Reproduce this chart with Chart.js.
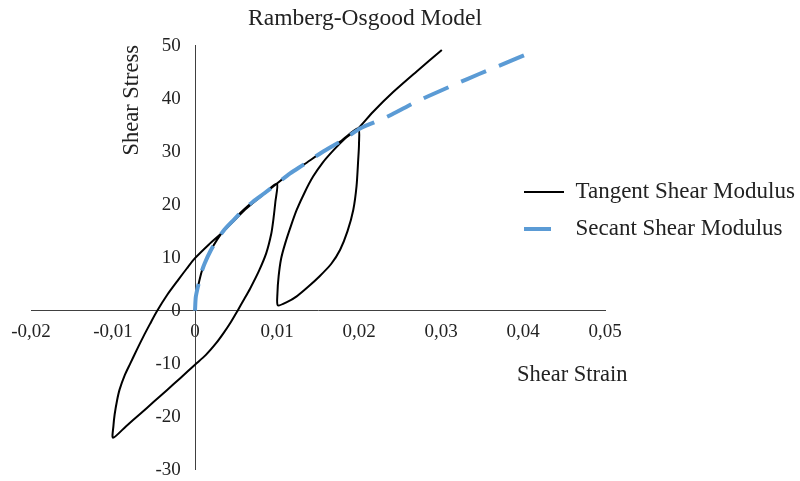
<!DOCTYPE html>
<html>
<head>
<meta charset="utf-8">
<title>Ramberg-Osgood Model</title>
<script src="https://cdn.jsdelivr.net/npm/chart.js@4.4.1/dist/chart.umd.min.js"></script>
<style>
    html, body { margin: 0; padding: 0; background: #fff; }
    .chart-box { position: relative; width: 800px; height: 481px; }
</style>
</head>
<body>
<div class="chart-box"><canvas id="roChart"></canvas></div>
<script>
const chartTitle = 'Ramberg-Osgood Model';
const strainTitle = 'Shear Strain';
const stressTitle = 'Shear Stress';
const seriesNames = ['Tangent Shear Modulus', 'Secant Shear Modulus'];

const strainTicks = [-0.02, -0.01, 0, 0.01, 0.02, 0.03, 0.04, 0.05];
const strainTickLabels = ['-0,02', '-0,01', '0', '0,01', '0,02', '0,03', '0,04', '0,05'];
const stressTicks = [-30, -20, -10, 0, 10, 20, 30, 40, 50];

// tangent path: first loading, unload to the left tip, reload, small loop, on to the top
const tangentStrain = [
    0, 0.0001, 0.0004, 0.0008, 0.0012, 0.0019, 0.0027, 0.0036, 0.0047, 0.0059, 0.0071, 0.0085, 0.0100,
    0.0098, 0.00955, 0.0093, 0.0087, 0.0078, 0.0067, 0.0059, 0.0052, 0.0044, 0.0035, 0.0026, 0.0013, 0.0,
    -0.0017, -0.0035, -0.0051, -0.0067, -0.0084, -0.0100,
    -0.00995, -0.0098, -0.0095, -0.0092, -0.0086, -0.0079, -0.0071, -0.0063, -0.0055, -0.0047,
    -0.0034, -0.0020, -0.0010, 0.0, 0.0017, 0.0035, 0.0049, 0.0063, 0.0080, 0.0100,
    0.0116, 0.0133, 0.0155, 0.0178, 0.0199,
    0.0200, 0.0199, 0.0197, 0.0193, 0.0186, 0.0177, 0.0166, 0.0152, 0.0138, 0.0124, 0.0112, 0.0101,
    0.01005, 0.0102, 0.0105, 0.0110, 0.0117, 0.0124, 0.0134, 0.0144, 0.0156, 0.0169, 0.0183, 0.0199,
    0.0217, 0.0242, 0.0270, 0.0301
];
const tangentStress = [
    0, 2.6, 4.8, 7.3, 9.0, 11.3, 13.4, 15.3, 17.1, 19.0, 20.6, 22.2, 24.0,
    20.5, 17.1, 14.5, 10.9, 7.5, 4.1, 1.9, 0.0, -2.1, -4.2, -6.1, -8.4, -10.2,
    -12.6, -15.1, -17.3, -19.5, -21.8, -24.0,
    -21.8, -19.6, -16.9, -14.9, -12.3, -10.0, -7.4, -4.9, -2.55, -0.25,
    2.95, 5.9, 7.95, 9.9, 12.5, 15.0, 17.2, 19.3, 21.5, 24.0,
    25.9, 27.6, 29.9, 32.0, 34.4,
    31.5, 28.4, 23.5, 19.0, 15.0, 11.5, 8.8, 6.5, 4.5, 2.7, 1.6, 1.0,
    3.2, 6.5, 9.8, 12.7, 16.0, 19.0, 22.4, 25.3, 28.0, 30.3, 32.5, 34.4,
    37.5, 41.3, 45.1, 49.2
];

// secant backbone
const secantStrain = [
    0, 0.0001, 0.0004, 0.0008, 0.0012, 0.0019, 0.0027, 0.0036, 0.0047, 0.0059, 0.0071, 0.0085, 0.0100,
    0.0116, 0.0133, 0.0155, 0.0178, 0.0203, 0.0223, 0.0240, 0.0267, 0.0285, 0.0314, 0.0332, 0.0361,
    0.0380, 0.0406
];
const secantStress = [
    0, 2.6, 4.8, 7.3, 9.0, 11.3, 13.4, 15.3, 17.1, 19.0, 20.6, 22.2, 24.0,
    25.9, 27.6, 29.9, 32.0, 34.5, 35.8, 37.0, 39.2, 40.5, 42.5, 43.7, 45.6,
    46.8, 48.5
];

const serif = '"Liberation Serif", "Times New Roman", serif';
const ink = '#222';
const axisInk = '#404040';

const pairs = (xs, ys) => xs.map((x, i) => ({ x, y: ys[i] }));

// title and legend sit where the plot leaves room for them
const placeBlocks = {
    id: 'placeBlocks',
    afterLayout(chart) {
        const title = chart.titleBlock;
        title.left = 0;
        title.right = 730;
        title.width = 730;

        const legend = chart.legend;
        legend.left = 510;
        legend.top = 166.5;
        legend.right = legend.left + legend.width;
        legend.bottom = legend.top + legend.height;
    }
};

// axis captions next to the crossing axes
const axisCaptions = {
    id: 'axisCaptions',
    afterDraw(chart) {
        const { ctx, scales: { x, y } } = chart;
        ctx.save();
        ctx.font = '22.5px ' + serif;
        ctx.fillStyle = ink;
        ctx.textAlign = 'center';
        ctx.textBaseline = 'middle';
        ctx.fillText(strainTitle, x.getPixelForValue(0.0460), y.getPixelForValue(-12.2));
        ctx.translate(x.getPixelForValue(-0.0077), y.getPixelForValue(39.7));
        ctx.rotate(-Math.PI / 2);
        ctx.fillText(stressTitle, 0, 0);
        ctx.restore();
    }
};

new Chart(document.getElementById('roChart'), {
    type: 'scatter',
    data: {
        datasets: [
            {
                label: seriesNames[0],
                data: pairs(tangentStrain, tangentStress),
                showLine: true,
                borderColor: '#000',
                borderWidth: 2,
                borderJoinStyle: 'round',
                tension: 0.25,
                pointRadius: 0,
                pointHoverRadius: 0,
                order: 1
            },
            {
                label: seriesNames[1],
                data: pairs(secantStrain, secantStress),
                showLine: true,
                borderColor: '#5b9bd5',
                borderWidth: 4,
                borderDash: [27, 14],
                tension: 0.25,
                pointRadius: 0,
                pointHoverRadius: 0,
                order: 0
            }
        ]
    },
    options: {
        responsive: true,
        maintainAspectRatio: false,
        animation: false,
        events: [],
        layout: { padding: { left: 31, right: 195, top: 0, bottom: 11 } },
        plugins: {
            title: {
                display: true,
                text: chartTitle,
                color: ink,
                font: { family: serif, size: 23.5, weight: 'normal' },
                padding: { top: 5, bottom: 12.5 }
            },
            legend: {
                position: 'chartArea',
                align: 'start',
                labels: {
                    color: ink,
                    font: { family: serif, size: 23 },
                    padding: 14,
                    usePointStyle: true,
                    pointStyleWidth: 40,
                    generateLabels: chart => chart.data.datasets.map((ds, i) => ({
                        text: ds.label,
                        datasetIndex: i,
                        strokeStyle: ds.borderColor,
                        fillStyle: ds.borderColor,
                        lineWidth: ds.borderWidth,
                        lineDash: ds.borderDash || [],
                        pointStyle: 'line',
                        fontColor: ink,
                        hidden: false
                    }))
                }
            },
            tooltip: { enabled: false }
        },
        scales: {
            x: {
                type: 'linear',
                position: { y: 0 },
                min: strainTicks[0],
                max: strainTicks[strainTicks.length - 1],
                afterBuildTicks: axis => { axis.ticks = strainTicks.map(v => ({ value: v })); },
                grid: { display: false, drawTicks: false },
                border: { display: true, color: axisInk, width: 1 },
                ticks: {
                    color: ink,
                    font: { family: serif, size: 19 },
                    padding: 10,
                    autoSkip: false,
                    maxRotation: 0,
                    callback: (v, i) => strainTickLabels[i]
                }
            },
            y: {
                type: 'linear',
                position: { x: 0 },
                min: stressTicks[0],
                max: stressTicks[stressTicks.length - 1],
                afterBuildTicks: axis => { axis.ticks = stressTicks.map(v => ({ value: v })); },
                grid: { display: false, drawTicks: false },
                border: { display: true, color: axisInk, width: 1 },
                ticks: {
                    color: ink,
                    font: { family: serif, size: 19 },
                    padding: 0,
                    autoSkip: false,
                    // labels of a crossing axis sit against the line, so keep a gap after the number
                    callback: (v, i) => stressTicks[i] + '\u2002\u2005'
                }
            }
        }
    },
    plugins: [placeBlocks, axisCaptions]
});
</script>
</body>
</html>
